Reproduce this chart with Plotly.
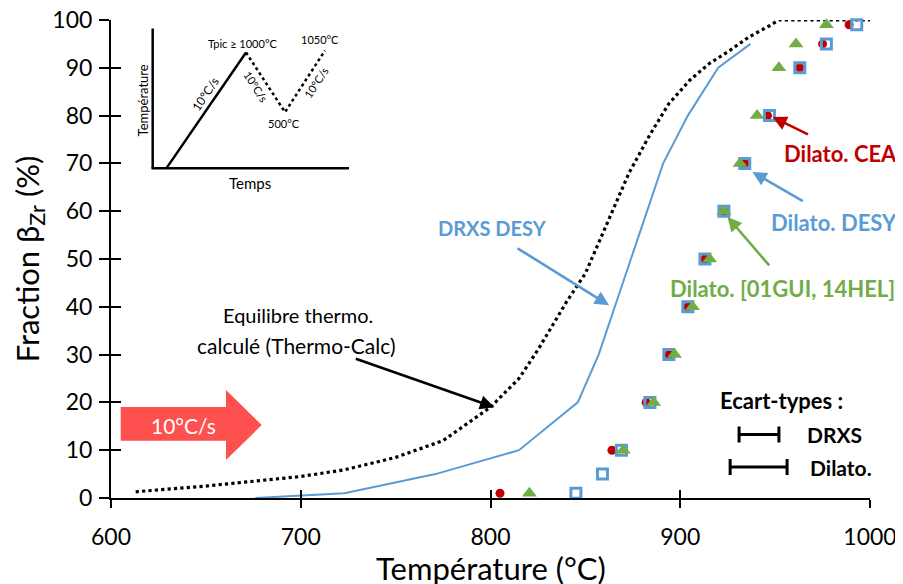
import plotly.graph_objects as go

# ---------------- data ----------------
drxs_T = [676, 723, 771, 815, 846, 857, 874, 891, 904, 920, 937]
drxs_f = [0, 1, 5, 10, 20, 30, 50, 70, 80, 90, 95]

tc_T = [613, 650, 700, 723, 750, 775, 800, 815, 825, 840, 850, 862, 873, 884, 894, 905, 915, 926, 936, 947, 952, 1000]
tc_f = [1.3, 2.5, 4.5, 5.9, 8.5, 12, 19, 25, 31, 41, 47, 58, 68, 76, 82.5, 87.4, 90.8, 93.6, 96.4, 98.8, 100, 100]

cea_T = [805, 864, 882, 894, 904, 913, 923, 934, 946, 963, 975, 989]
cea_f = [1, 10, 20, 30, 40, 50, 60, 70, 80, 90, 95, 99]

desy_T = [845, 859, 869, 884, 894, 904, 913, 923, 934, 947, 963, 977, 993]
desy_f = [1, 5, 10, 20, 30, 40, 50, 60, 70, 80, 90, 95, 99]

gui_T = [820.5, 870, 886, 897, 906.5, 915.5, 923, 931.5, 940.5, 952, 961, 977]
gui_f = [1, 10, 20, 30, 40, 50, 60, 70, 80, 90, 95, 99]

x_ticks = [600, 700, 800, 900, 1000]
y_ticks = [0, 10, 20, 30, 40, 50, 60, 70, 80, 90, 100]

# standard deviations (half widths, °C) shown as legend glyphs
sd_labels = ["DRXS", "Dilato."]
sd_half = [10.5, 15]
sd_center_T = [941.5, 941.3]
sd_center_f = [13.3, 6.5]

BLUE = "#5B9BD5"
RED = "#C00000"
GREEN = "#70AD47"
FONT = "Lato, Carlito, Calibri, sans-serif"

OFF = 8  # page body margin
W, H = 903 - OFF, 584 - OFF
L, T = 111 - OFF, 19.5 - OFF
R = W - (870 - OFF)
B = H - (498 - OFF)
PW, PH = W - L - R, H - T - B


def px(x):
    return (x - OFF - L) / PW


def py(y):
    return (H - B - (y - OFF)) / PH


fig = go.Figure()

fig.add_trace(go.Scatter(x=tc_T, y=tc_f, mode="lines",
                         line=dict(color="black", width=3.2, dash="dot"),
                         showlegend=False, cliponaxis=False))
fig.add_trace(go.Scatter(x=drxs_T, y=drxs_f, mode="lines",
                         line=dict(color=BLUE, width=2),
                         showlegend=False))
fig.add_trace(go.Scatter(x=cea_T, y=cea_f, mode="markers",
                         marker=dict(symbol="circle", size=9, color=RED),
                         showlegend=False, cliponaxis=False))
fig.add_trace(go.Scatter(x=desy_T, y=desy_f, mode="markers",
                         marker=dict(symbol="square-open", size=10, color=BLUE,
                                     line=dict(width=3, color=BLUE)),
                         showlegend=False, cliponaxis=False))
fig.add_trace(go.Scatter(x=gui_T, y=gui_f, mode="markers",
                         marker=dict(symbol="triangle-up", size=13, color=GREEN),
                         showlegend=False, cliponaxis=False))

# standard deviation glyphs
fig.add_trace(go.Scatter(x=sd_center_T, y=sd_center_f, mode="markers",
                         marker=dict(size=1, color="rgba(0,0,0,0)"),
                         error_x=dict(type="data", array=sd_half, color="black",
                                      thickness=3, width=8),
                         showlegend=False))

shapes = []
# inset axes
shapes.append(dict(type="line", xref="paper", yref="paper",
                   x0=px(152.7), y0=py(28), x1=px(152.7), y1=py(168),
                   line=dict(color="black", width=2.5)))
shapes.append(dict(type="line", xref="paper", yref="paper",
                   x0=px(151.5), y0=py(168), x1=px(349), y1=py(168),
                   line=dict(color="black", width=2.5)))
shapes.append(dict(type="line", xref="paper", yref="paper",
                   x0=px(167), y0=py(167), x1=px(246), y1=py(52),
                   line=dict(color="black", width=2.5)))
shapes.append(dict(type="path", xref="paper", yref="paper",
                   path=f"M {px(246)},{py(52)} L {px(285)},{py(111.7)} L {px(325)},{py(50)}",
                   line=dict(color="black", width=2.5, dash="dot")))
# red heating-rate arrow
pts = [(120.7, 407), (226, 407), (226, 390), (261.7, 425), (226, 460), (226, 440.7), (120.7, 440.7)]
path = "M " + " L ".join(f"{px(a)},{py(b)}" for a, b in pts) + " Z"
shapes.append(dict(type="path", xref="paper", yref="paper", path=path,
                   fillcolor="#FF5050", line=dict(width=0)))

ann = []


def txt(x, y, s, size, color="black", angle=0, bold=False, yanchor="middle"):
    ann.append(dict(x=px(x), y=py(y), xref="paper", yref="paper",
                    text=f"<b>{s}</b>" if bold else s, showarrow=False,
                    xanchor="center", yanchor=yanchor, textangle=angle,
                    font=dict(family=FONT, size=size, color=color)))


def arrow(xh, yh, ax, ay, color):
    ann.append(dict(x=xh, y=yh, xref="x", yref="y", text="", showarrow=True,
                    ax=ax, ay=ay, axref="pixel", ayref="pixel",
                    arrowhead=2, arrowsize=1.1, arrowwidth=2.6,
                    arrowcolor=color, standoff=0, startstandoff=0))


# inset texts
txt(242.7, 43, "Tpic ≥ 1000°C", 11)
txt(320, 39, "1050°C", 11)
txt(284, 123, "500°C", 11)
txt(205, 94, "10°C/s", 12, angle=-56)
txt(256, 86, "10°C/s", 11, angle=57)
txt(316, 82, "10°C/s", 11, angle=-57)
txt(143, 100, "Température", 13, angle=-90)
txt(250, 183, "Temps", 15)

# main annotations
txt(492, 228, "DRXS DESY", 20, color=BLUE, bold=True)
txt(298, 315, "Equilibre thermo.", 20)
txt(296, 345, "calculé (Thermo-Calc)", 21)
txt(840, 153, "Dilato. CEA", 22, color=RED, bold=True)
txt(834, 222, "Dilato. DESY", 22, color=BLUE, bold=True)
txt(782, 288, "Dilato. [01GUI, 14HEL]", 22, color=GREEN, bold=True)
txt(781.5, 400, "Ecart-types :", 22, bold=True)
txt(834.7, 434, sd_labels[0], 21, bold=True)
txt(840.5, 467, sd_labels[1], 21, bold=True)
txt(183, 425, "10°C/s", 21, color="white")

# x-axis title
txt(490.5, 547, "Température (°C)", 31, yanchor="top")

# arrows (head in data coords, tail offset in pixels)
arrow(862.5, 40.3, -93, -58, BLUE)
arrow(802, 19, -140, -49, "black")
arrow(948.6, 79.7, 37, 18, RED)
arrow(938, 68.2, 52, 30, BLUE)
arrow(924.9, 58.8, 43, 50, GREEN)

fig.update_layout(
    width=W, height=H,
    margin=dict(l=L, r=R, t=T, b=B, autoexpand=False),
    plot_bgcolor="white", paper_bgcolor="white",
    font=dict(family=FONT, color="black"),
    shapes=shapes, annotations=ann, showlegend=False,
    xaxis=dict(range=[600, 1000], tickvals=x_ticks, ticks="outside", ticklen=8,
               tickwidth=1.5, tickcolor="black", showline=True, linecolor="black",
               linewidth=2, showgrid=False, zeroline=False,
               ticklabeloverflow="allow", ticklabelstandoff=9,
               tickfont=dict(size=23, family=FONT)),
    yaxis=dict(range=[0, 100], tickvals=y_ticks, ticks="outside", ticklen=10,
               tickwidth=1.5, tickcolor="black", showline=True, linecolor="black",
               linewidth=2, showgrid=False, zeroline=False,
               ticklabeloverflow="allow", ticklabelstandoff=2,
               tickfont=dict(size=23, family=FONT),
               title=dict(text="Fraction β<sub>Zr</sub> (%)", font=dict(size=31, family=FONT),
                          standoff=5)),
    xaxis2=dict(range=[600, 1000], tickvals=x_ticks, ticks="inside", ticklen=8,
                tickwidth=1.5, tickcolor="black", showticklabels=False,
                overlaying="x", anchor="y", side="bottom", showgrid=False, zeroline=False),
    yaxis2=dict(range=[0, 100], tickvals=y_ticks, ticks="inside", ticklen=10,
                tickwidth=1.5, tickcolor="black", showticklabels=False,
                overlaying="y", anchor="x", side="left", showgrid=False, zeroline=False),
)
# dummy trace to activate the overlay axes
fig.add_trace(go.Scatter(x=[None], y=[None], xaxis="x2", yaxis="y2", showlegend=False))

fig.write_html("out.html")
